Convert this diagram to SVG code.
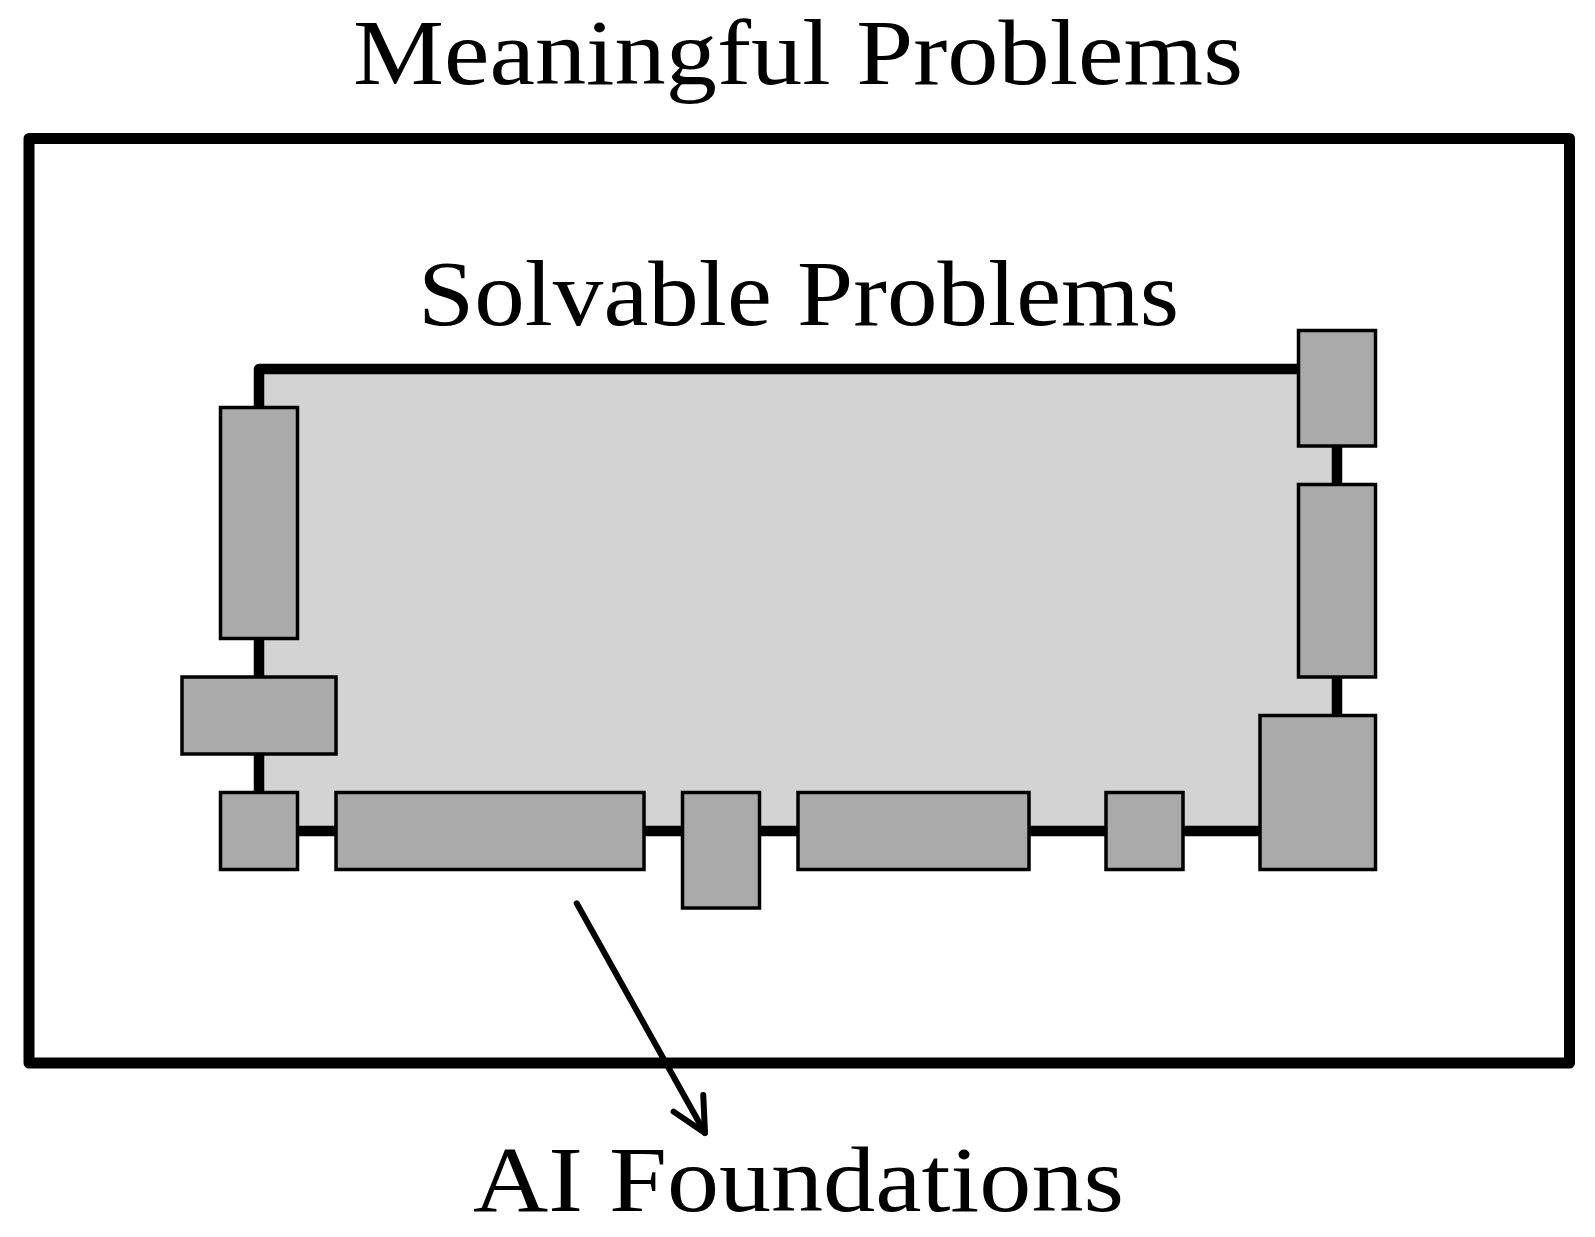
<svg xmlns="http://www.w3.org/2000/svg" width="1595" height="1237" viewBox="0 0 1595 1237">
  <style>
    .lbl { font-family: "Liberation Serif", "Times New Roman", serif; font-size: 94px; fill: #000; }
    .box { fill: #aaaaaa; stroke: #000; stroke-width: 3.5; }
    .wire { fill: none; stroke: #000; stroke-width: 10.5; stroke-linejoin: round; }
    .arrow { fill: none; stroke: #000; stroke-width: 6; stroke-linecap: round; stroke-linejoin: round; }
  </style>
  <defs>
    <marker id="open-arrow" markerUnits="userSpaceOnUse" markerWidth="80" markerHeight="80" refX="0" refY="0" orient="auto" overflow="visible">
      <path d="M -34,-17 L 0,0 L -34,17" fill="none" stroke="#000" stroke-width="6" stroke-linecap="round" stroke-linejoin="round"/>
    </marker>
  </defs>
  <rect width="1595" height="1237" fill="#fff"/>

  <g id="meaningful">
    <rect x="29" y="138.5" width="1540.5" height="924.5" fill="none" stroke="#000" stroke-width="11" stroke-linejoin="round"/>
    <text class="lbl" x="353" y="84" textLength="890" lengthAdjust="spacingAndGlyphs">Meaningful Problems</text>
  </g>

  <g id="solvable">
    <rect x="259" y="369" width="1078" height="462" fill="#d3d3d3"/>
    <text class="lbl" x="418" y="325" textLength="761" lengthAdjust="spacingAndGlyphs">Solvable Problems</text>
  </g>

  <g id="connectors">
    <rect class="wire" x="259" y="369" width="1078" height="462"/>
    <path class="arrow" d="M 576.7,903.3 L 705,1133" marker-end="url(#open-arrow)"/>
  </g>

  <g id="box-left-tall"><rect class="box" x="220.5" y="407.5" width="77" height="231"/></g>
  <g id="box-left-wide"><rect class="box" x="182" y="677" width="154" height="77"/></g>
  <g id="box-bottom-left"><rect class="box" x="220.5" y="792.5" width="77" height="77"/></g>
  <g id="box-bottom-long"><rect class="box" x="336" y="792.5" width="308" height="77"/></g>
  <g id="box-bottom-drop"><rect class="box" x="682.5" y="792.5" width="77" height="115.5"/></g>
  <g id="box-bottom-medium"><rect class="box" x="798" y="792.5" width="231" height="77"/></g>
  <g id="box-bottom-small"><rect class="box" x="1106" y="792.5" width="77" height="77"/></g>
  <g id="box-bottom-right"><rect class="box" x="1260" y="715.5" width="115.5" height="154"/></g>
  <g id="box-right-middle"><rect class="box" x="1298.5" y="484.5" width="77" height="192.5"/></g>
  <g id="box-top-right"><rect class="box" x="1298.5" y="330.5" width="77" height="115.5"/></g>

  <g id="ai-foundations">
    <text class="lbl" x="473" y="1211" textLength="651" lengthAdjust="spacingAndGlyphs">AI Foundations</text>
  </g>
</svg>
